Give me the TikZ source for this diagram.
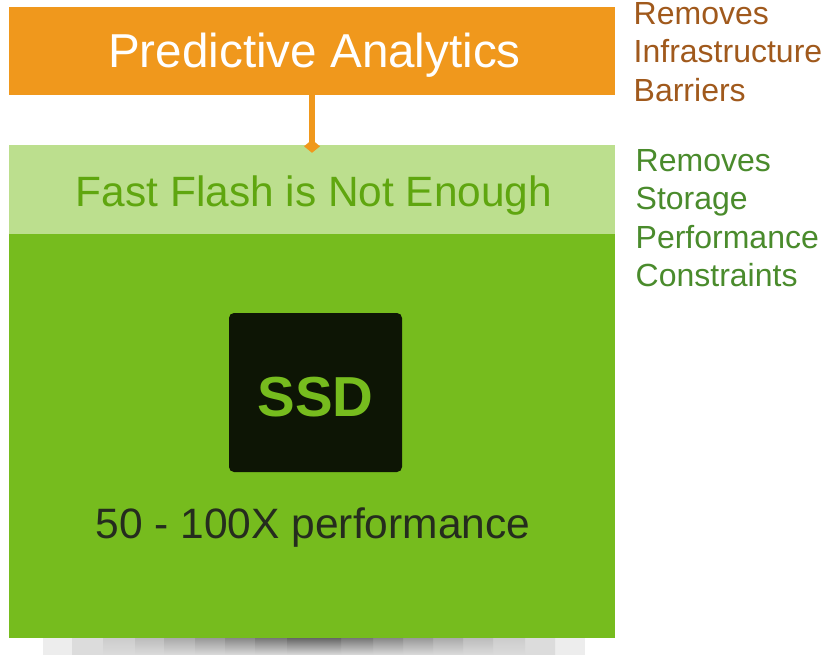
\documentclass[tikz,border=0pt]{standalone}
\usepackage{fontspec}
\setmainfont{Liberation Sans}
\usetikzlibrary{arrows.meta}
\definecolor{orangebar}{HTML}{F0981C}
\definecolor{lightgreen}{HTML}{BCDF8E}
\definecolor{maingreen}{HTML}{76BC1E}
\definecolor{darkgreen}{HTML}{5FA60F}
\definecolor{chipblack}{HTML}{0D1505}
\definecolor{sidebrown}{HTML}{A0591C}
\definecolor{sidegreen}{HTML}{4A8B2C}
\definecolor{s1}{HTML}{EDEDED}
\definecolor{s2}{HTML}{DCDCDC}
\definecolor{s3}{HTML}{CCCCCC}
\definecolor{s4}{HTML}{BCBCBC}
\definecolor{s5}{HTML}{AAAAAA}
\definecolor{s6}{HTML}{999999}
\definecolor{s7}{HTML}{888888}
\definecolor{s8}{HTML}{777777}
\definecolor{s9}{HTML}{666666}
\begin{document}
\begin{tikzpicture}[x=1pt,y=-1pt,>=latex]
	\tikzstyle{band} = [rectangle, inner sep=0pt, minimum width=606pt]
	\tikzstyle{side} = [anchor=west, align=left, inner sep=0pt, font=\fontsize{32}{38.5}\selectfont]
	\useasboundingbox (0,0) rectangle (825,655);
	% shadow under the big box
	\fill[s1] (43,638) rectangle (585,655);
	\foreach \xa/\xb/\n in {72/555/2, 103/525/3, 135/493/4, 164/463/5, 195/433/6, 225/403/7, 255/373/8, 287/341/9}
		\shade[top color=s\n, bottom color=s2] (\xa,638) rectangle (\xb,655);
	\node (analytics) [band, fill=orangebar, minimum height=88pt, text=white, text height=44pt, text depth=10pt, font=\fontsize{47.6}{50}\selectfont] at (312,51) {\hspace{5pt}Predictive Analytics};
	\node (flash) [band, fill=lightgreen, minimum height=89pt, text=darkgreen, text height=43pt, text depth=9pt, font=\fontsize{42.4}{46}\selectfont, below of=analytics, node distance=138.5pt] {\hspace{4pt}Fast Flash is Not Enough};
	\node (main) [band, fill=maingreen, minimum height=404pt, below of=flash, node distance=246.5pt] {};
	\node (ssd) [rectangle, fill=chipblack, rounded corners=5pt, minimum width=173pt, minimum height=159pt, inner sep=0pt, text=maingreen, text height=48pt, text depth=1pt, font=\bfseries\fontsize{56.4}{60}\selectfont] at (315.5,392.5) {SSD};
	\node (perf) [text=chipblack!90!white, inner sep=0pt, font=\fontsize{42.5}{46}\selectfont] at (313,528) {50 - 100X performance};
	\node (barriers) [side, text=sidebrown] at (633.5,52) {Removes\\Infrastructure\\Barriers};
	\node (constraints) [side, text=sidegreen] at (635.5,218) {Removes\\Storage\\Performance\\Constraints};
	\draw[-{Diamond[length=13pt,width=16pt]}, orangebar, line width=6pt, shorten >=-8pt] (analytics) -- (flash.north);
\end{tikzpicture}
\end{document}
